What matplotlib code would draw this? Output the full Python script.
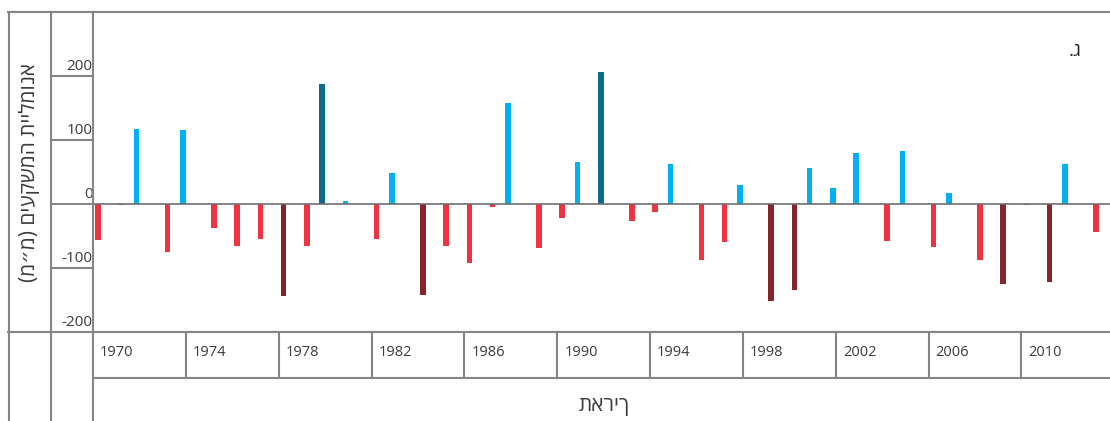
import numpy as np
import matplotlib
matplotlib.use('Agg')
import matplotlib.pyplot as plt
from matplotlib.lines import Line2D
from matplotlib.transforms import blended_transform_factory

# annual rainfall anomaly (mm)
years = list(range(1970, 2014))
anomaly = [-56, -2, 117, -75, 115, -38, -65, -55, -143, -65,
           187, 4, -54, 48, -142, -65, -92, -4, 158, -68,
           -22, 66, 206, -27, -13, 62, -88, -60, 29, -152,
           -134, 57, 25, 79, -58, 83, -67, 17, -88, -125,
           -1, -122, 62, -43]
extreme_years = [1978, 1980, 1984, 1992, 1999, 2000, 2009, 2011]

label_years = [1970, 1974, 1978, 1982, 1986, 1990, 1994, 1998, 2002, 2006, 2010]
y_ticks = [200, 100, 0, -100, -200]

y_label = 'אנומליית המשקעים (מ״מ)'
x_label = 'תאריך'
panel = 'ג.'


def visual(s):
    # matplotlib has no bidi: reverse RTL text and mirror brackets
    s = s[::-1]
    return s.translate(str.maketrans('()', ')('))


W, H = 1110, 421
LINE = '#858585'
NUM_FONT = ['Open Sans', 'DejaVu Sans']
HEB_FONT = ['Open Sans', 'DejaVu Sans']

fig = plt.figure(figsize=(W / 100, H / 100), dpi=100)
ax = fig.add_axes([93 / W, (H - 332) / H, (W - 93) / W, 320 / H])
ax.set_xlim(1969.955, 2013.77)
ax.set_ylim(-200, 300)
ax.axis('off')

x = np.array(years, dtype=float)
v = np.array(anomaly, dtype=float)
ext = np.isin(years, extreme_years)
pos = v >= 0

colors = np.where(pos, np.where(ext, '#0a6b8d', '#00b0f0'),
                  np.where(ext, '#852528', '#ee3440'))
xpos = np.where(pos, x - 0.17, x + 0.17)
ax.bar(xpos, v, width=0.24, color=colors, linewidth=0, zorder=2)

# zero line across plot and into tick column
fx_dy = blended_transform_factory(fig.transFigure, ax.transData)
ax.plot([51 / W, 1.0], [0, 0], transform=fx_dy, color='#6e6e6e', lw=1.2,
        clip_on=False, zorder=3)
for t in y_ticks:
    if t not in (0, -200):
        ax.plot([51 / W, 93 / W], [t, t], transform=fx_dy, color=LINE,
                lw=1.5, clip_on=False)
    ax.text(92.5 / W, t + 3, str(t), transform=fx_dy, ha='right',
            va='bottom', fontsize=11, family=NUM_FONT, color='#3a3a3a')


def hline(x0, x1, y):
    fig.add_artist(Line2D([x0 / W, x1 / W], [1 - y / H, 1 - y / H],
                          color=LINE, lw=1.5))


def vline(xp, y0, y1):
    fig.add_artist(Line2D([xp / W, xp / W], [1 - y0 / H, 1 - y1 / H],
                          color=LINE, lw=1.5))


# table frame
hline(8, W, 12)
hline(8, W, 332)
hline(93, W, 378)
vline(8.5, 12, H)
vline(51, 12, H)
vline(93, 12, H)

# year cells below the plot
dx_fy = blended_transform_factory(ax.transData, fig.transFigure)
for yr in label_years:
    if yr != label_years[0]:
        ax.plot([yr - 0.045, yr - 0.045], [1 - 332 / H, 1 - 378 / H],
                transform=dx_fy, color=LINE, lw=1.5, clip_on=False)
    ax.text(yr + 0.26, 1 - 353 / H, str(yr), transform=dx_fy,
            ha='left', va='center', fontsize=10.5, family=NUM_FONT,
            color='#3a3a3a')

fig.text(604 / W, 1 - 405 / H, x_label, ha='center', va='center',
         fontsize=15, family=HEB_FONT, color='#3a3a3a')
fig.text(30 / W, 1 - 172 / H, visual(y_label), ha='center', va='center',
         rotation=90, fontsize=15, family=HEB_FONT, color='#3a3a3a')
fig.text(1075 / W, 1 - 51 / H, visual(panel), ha='center', va='center',
         fontsize=14, family=HEB_FONT, color='#222222')

fig.savefig('out.png', dpi=100)
